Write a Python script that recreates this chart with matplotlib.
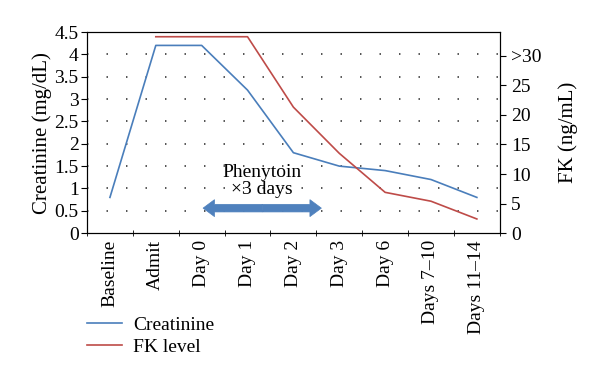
import matplotlib.pyplot as plt
from matplotlib.patches import FancyArrow
from matplotlib.ticker import MultipleLocator, FixedLocator

plt.rcParams['font.family'] = ['Liberation Serif', 'DejaVu Serif']

# data
categories = ['Baseline', 'Admit', 'Day 0', 'Day 1', 'Day 2', 'Day 3',
              'Day 6', 'Days 7\u201310', 'Days 11\u201314']
creatinine = [0.8, 4.2, 4.2, 3.2, 1.8, 1.5, 1.4, 1.2, 0.8]
fk_level = [None, 33.2, 33.2, 33.2, 21.3, 13.5, 6.9, 5.4, 2.4]
fk_ticks = [0, 5, 10, 15, 20, 25, 30]
fk_tick_labels = ['0', '5', '10', '15', '20', '25', '>30']

x = list(range(len(categories)))

fig = plt.figure(figsize=(6, 3.81), dpi=100)
ax = fig.add_axes([0.145, 0.388, 0.688, 0.528])
ax2 = ax.twinx()

l1, = ax.plot(x, creatinine, color='#4a7ebb', lw=1.2, label='Creatinine')
fk_x = [i for i, v in zip(x, fk_level) if v is not None]
fk_y = [v for v in fk_level if v is not None]
l2, = ax2.plot(fk_x, fk_y, color='#be4b48', lw=1.2, label='FK level')

ax.set_xlim(-0.5, len(categories) - 0.5)
ax.set_ylim(0, 4.5)
ax2.set_ylim(0, 34)
ax.yaxis.set_major_locator(MultipleLocator(0.5))
ax.set_yticklabels([f'{v:g}' for v in ax.get_yticks()])
for yv in [0.5, 1, 1.5, 2, 2.5, 3, 3.5, 4]:
    ax.axhline(yv, color='#444444', lw=1.3, ls=(0, (0.8, 10)), zorder=0)

ax.set_xticks(x)
ax.set_xticklabels(categories, rotation=90)
ax.xaxis.set_minor_locator(FixedLocator([i - 0.5 for i in range(len(categories) + 1)]))
ax.tick_params(axis='x', which='major', length=0, labelsize=14, pad=5)
ax.tick_params(axis='x', which='minor', length=4, direction='inout')
ax.tick_params(axis='y', labelsize=14, length=4, direction='out', pad=2)

ax2.set_yticks(fk_ticks)
ax2.set_yticklabels(fk_tick_labels)
ax2.tick_params(axis='y', labelsize=14, length=4, direction='out', pad=4)

ax.set_ylabel('Creatinine (mg/dL)', fontsize=15, labelpad=2)
ax2.set_ylabel('FK (ng/mL)', fontsize=15, labelpad=12)

# phenytoin annotation, double-headed arrow
arr_mid = 3.32
arr_half = 1.29
for d in (-1, 1):
    ax.add_patch(FancyArrow(arr_mid, 0.56, d * arr_half, 0, width=0.17, head_width=0.38,
                            head_length=0.25, length_includes_head=True,
                            fc='#4f81bd', ec='#4f81bd', lw=0.5))
ax.text(3.32, 1.17, 'Phenytoin\n\u00d73 days', ha='center', va='center', fontsize=14, linespacing=1.0)

fig.legend(handles=[l1, l2], loc='upper left', bbox_to_anchor=(0.115, 0.215),
           frameon=False, fontsize=14, handlelength=1.8, handletextpad=0.6, labelspacing=0.2)

fig.savefig('out.png', dpi=100)
